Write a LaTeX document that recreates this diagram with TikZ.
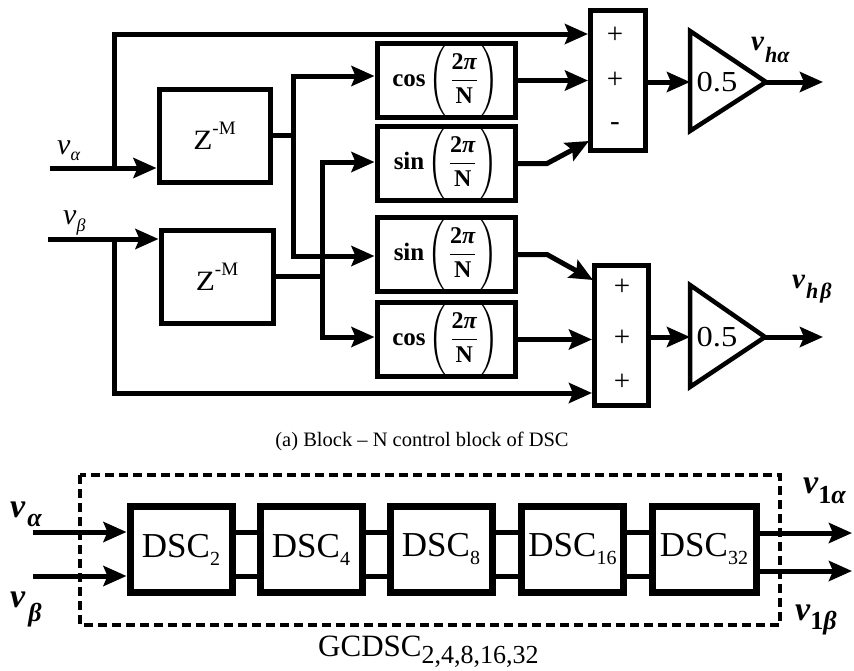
\documentclass[tikz,border=0pt]{standalone}
\usepackage{fontspec}
\setmainfont{Liberation Serif}
\usepackage{amsmath}
\usepackage{graphicx}
\usetikzlibrary{arrows.meta}

\newcommand\fs[1]{\fontsize{#1}{#1}\selectfont}
% delay block label
\newcommand\zlabel{{\fs{28}\scalebox{1.12}[1]{Z}\raisebox{15pt}{\fs{19}-M}}}
% trigonometric gain block label
\newcommand\trig[1]{{\fs{25}\bfseries #1}\hspace{3pt}{\fs{24}$\left(\vrule height 33pt depth 27pt width 0pt\hspace{2pt}\dfrac{\text{\bfseries 2\itshape π}}{\text{\bfseries N}}\hspace{2pt}\right)$}}
% DSC stage label
\newcommand\dsc[1]{{\fs{35}DSC}\raisebox{-8pt}{\fs{20}#1}}

\begin{document}
\begin{tikzpicture}[x=1pt,y=-1pt,
  wire/.style={line width=5pt},
  arr/.style={wire,-{Stealth[length=23pt,width=20pt,inset=4pt]}},
  box/.style={draw,line width=5pt,inner sep=0pt},
  fbox/.style={box,minimum width=138pt},
  dbox/.style={box,line width=7pt,minimum width=102pt,minimum height=86pt},
  sgn/.style={inner sep=0pt,font=\fs{29}},
  amp/.style={line width=4.5pt,line join=miter},
  lbl/.style={inner sep=0pt,anchor=base west}]
\useasboundingbox (0,0) rectangle (854,670);

% ---------- (a) DSC block ----------
\node[box,minimum width=111pt,minimum height=93pt] (z1) at (214.5,135.5) {\zlabel};
\node[box,minimum width=112pt,minimum height=93pt] (z2) at (217,276.5) {\zlabel};

\node[fbox,minimum height=64pt] (f1) at (446,80.5) {\trig{cos}};
\node[fbox,minimum height=68pt] (f2) at (446,163.5) {\trig{sin}};
\node[fbox,minimum height=70pt] (f3) at (446,254.5) {\trig{sin}};
\node[fbox,minimum height=70pt] (f4) at (446,339.5) {\trig{cos}};

\node[box,minimum width=55pt,minimum height=140pt] (s1) at (618,80.5) {};
\node[box,minimum width=54pt,minimum height=140pt] (s2) at (621.5,335.5) {};
\node[sgn] (s1a) at (615,35) {+};
\node[sgn] (s1b) at (615,80) {+};
\node[sgn] (s1c) at (615,127) {-};
\node[sgn] (s2a) at (622,287) {+};
\node[sgn] (s2b) at (622,338) {+};
\node[sgn] (s2c) at (622,382) {+};

% gain triangles
\coordinate (t1in) at (690,82);
\coordinate (t1out) at (766,82);
\coordinate (t2in) at (690,337);
\coordinate (t2out) at (765,337);
\draw[amp] (690,31) -- (t1out) -- (690,131) -- cycle;
\draw[amp] (690,285) -- (t2out) -- (690,387) -- cycle;
\node[inner sep=0pt,font=\fs{29}] (g1) at (717,82) {\scalebox{1.12}[1]{0.5}};
\node[inner sep=0pt,font=\fs{29}] (g2) at (717,337) {\scalebox{1.12}[1]{0.5}};

% inputs
\coordinate (va) at (50,168);
\coordinate (vab) at (114,168);
\coordinate (vatop) at (114,34);
\coordinate (vb) at (48,239);
\coordinate (vbb) at (114,239);
\coordinate (vbbot) at (114,393);
\draw[arr] (va) -- (va -| z1.west);
\draw[arr] (vab) -- (vatop) -- (vatop -| s1.west);
\draw[arr] (vb) -- (vb -| z2.west);
\draw[arr] (vbb) -- (vbbot) -- (vbbot -| s2.west);

% delayed signals to the gain blocks
\coordinate (j1) at (293,135.5);
\coordinate (j1t) at (293,76);
\coordinate (j1b) at (293,256);
\coordinate (j2) at (322,276.5);
\coordinate (j2t) at (322,162);
\coordinate (j2b) at (322,337);
\draw[wire] (z1.east) -- (j1);
\draw[arr] (j1) -- (j1t) -- (j1t -| f1.west);
\draw[arr] (j1) -- (j1b) -- (j1b -| f3.west);
\draw[wire] (z2.east) -- (j2);
\draw[arr] (j2) -- (j2t) -- (j2t -| f2.west);
\draw[arr] (j2) -- (j2b) -- (j2b -| f4.west);

% gain blocks to the summers
\coordinate (k2) at (547,163.5);
\coordinate (s1in) at (589,141);
\coordinate (k3) at (547,254.5);
\coordinate (s2in) at (593,280);
\draw[arr] (f1.east) -- (f1.east -| s1.west);
\draw[arr] (f2.east) -- (k2) -- (s1in);
\draw[arr] (f3.east) -- (k3) -- (s2in);
\draw[arr] (f4.east) -- (f4.east -| s2.west);

% summers to gains and outputs
\coordinate (o1) at (823,82);
\coordinate (o2) at (823,337);
\draw[arr] (s1.east |- t1in) -- (t1in);
\draw[arr] (t1out) -- (o1);
\draw[arr] (s2.east |- t2in) -- (t2in);
\draw[arr] (t2out) -- (o2);

% signal names
\node[lbl] (lva) at (57,154) {\fs{30}\itshape v\raisebox{-6pt}{\fs{18}α}};
\node[lbl] (lvb) at (63,224) {\fs{30}\itshape v\raisebox{-7pt}{\fs{18}β}};
\node[lbl] (lha) at (751,50) {\fs{29}\bfseries\itshape v\hspace{1pt}\raisebox{-12pt}{\fs{22}hα}};
\node[lbl] (lhb) at (792,288) {\fs{29}\bfseries\itshape v\hspace{1pt}\raisebox{-10pt}{\fs{22}h\hspace{2pt}β}};

\node[inner sep=0pt,font=\fs{20.5}] (capa) at (422,441) {(a) Block -- N control block of DSC};

% ---------- cascaded DSC ----------
\draw[line width=4pt,dash pattern=on 9pt off 5pt] (80,475) rectangle (780,625);

\node[dbox] (d2) at (181,549.5) {\dsc{2}};
\node[dbox] (d4) at (311,549.5) {\dsc{4}};
\node[dbox] (d8) at (441,549.5) {\dsc{8}};
\node[dbox] (d16) at (572.5,549.5) {\dsc{16}};
\node[dbox,minimum width=104pt] (d32) at (704,549.5) {\dsc{32}};

\coordinate (ia) at (33,532);
\coordinate (ib) at (33,576);
\coordinate (oa) at (852,533);
\coordinate (ob) at (852,571);
\draw[arr] (ia) -- (ia -| d2.west);
\draw[arr] (ib) -- (ib -| d2.west);
\foreach \p/\q in {d2/d4,d4/d8,d8/d16,d16/d32}{
  \draw[wire] (\p.east |- ia) -- (\q.west |- ia);
  \draw[wire] (\p.east |- ib) -- (\q.west |- ib);
}
\draw[arr] (d32.east |- oa) -- (oa);
\draw[arr] (d32.east |- ob) -- (ob);

\node[lbl] (lia) at (10,517) {\fs{34}\bfseries\itshape v\hspace{2pt}\raisebox{-9pt}{\fs{26}α}};
\node[lbl] (lib) at (10,607) {\fs{34}\bfseries\itshape v\hspace{3pt}\raisebox{-14pt}{\fs{26}β}};
\node[lbl] (loa) at (803,493) {\fs{34}\bfseries\itshape v\raisebox{-10pt}{\fs{26}\upshape 1\itshape α}};
\node[lbl] (lob) at (795,620) {\fs{34}\bfseries\itshape v\raisebox{-9pt}{\fs{26}\upshape 1\itshape β}};

\node[lbl] (gc) at (318,656) {\fs{31}GCDSC\raisebox{-7pt}{\fs{26}2,4,8,16,32}};
\end{tikzpicture}
\end{document}
